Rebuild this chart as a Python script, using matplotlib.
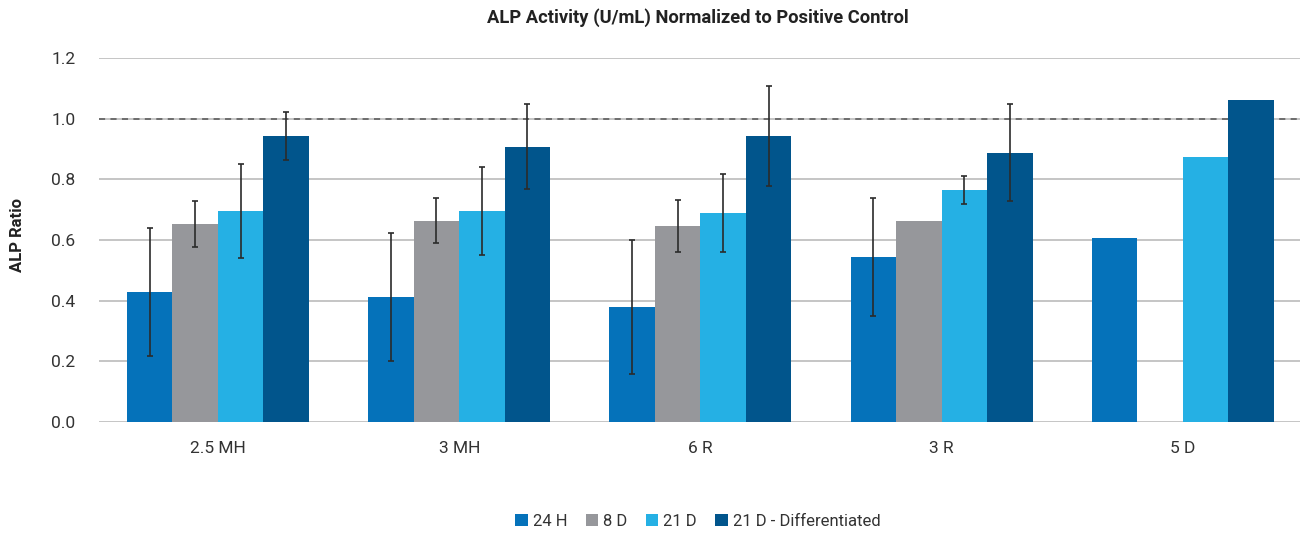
import numpy as np
import matplotlib
matplotlib.use("Agg")
import matplotlib.pyplot as plt
from matplotlib.patches import Patch

plt.rcParams['font.family'] = ['Roboto', 'DejaVu Sans']

categories = ["2.5 MH", "3 MH", "6 R", "3 R", "5 D"]
series_names = ["24 H", "8 D", "21 D", "21 D - Differentiated"]
colors = ["#0572BA", "#96979B", "#25B0E4", "#01558C"]

v_24h = [0.429, 0.412, 0.379, 0.544, 0.607]
v_8d = [0.653, 0.663, 0.646, 0.663, np.nan]
v_21d = [0.696, 0.696, 0.689, 0.765, 0.874]
v_21dd = [0.943, 0.907, 0.943, 0.887, 1.062]

e_24h = [0.212, 0.212, 0.222, 0.194, np.nan]
e_8d = [0.077, 0.074, 0.087, np.nan, np.nan]
e_21d = [0.156, 0.144, 0.128, 0.047, np.nan]
e_21dd = [0.078, 0.140, 0.165, 0.160, np.nan]

values = [v_24h, v_8d, v_21d, v_21dd]
errors = [e_24h, e_8d, e_21d, e_21dd]

yticks = [0.0, 0.2, 0.4, 0.6, 0.8, 1.0, 1.2]
ref_line = 1.0

W, H = 1301, 537
fig = plt.figure(figsize=(W / 100, H / 100), dpi=100)
ax = fig.add_axes([99 / W, (H - 422) / H, (1300 - 99) / W, (422 - 58) / H])

x = np.arange(len(categories))
bw = 0.1886
offsets = [-1.5, -0.5, 0.5, 1.5]
for vals, errs, col, off in zip(values, errors, colors, offsets):
    vals = np.array(vals, dtype=float)
    ax.bar(x + off * bw, vals, width=bw, color=col, zorder=3, linewidth=0)
    errs = np.array(errs, dtype=float)
    m = ~np.isnan(errs) & ~np.isnan(vals)
    ax.errorbar((x + off * bw)[m], vals[m], yerr=errs[m], fmt='none',
                ecolor='#2b2b2b', elinewidth=1.2, capsize=2.5, capthick=1.2,
                zorder=4)

ax.axhline(ref_line, color='#555555', linestyle=(0, (4, 3.5)), linewidth=1.1, zorder=2)

ax.set_ylim(0, 1.2)
ax.set_xlim(-0.493, 4.485)
ax.set_yticks(yticks)
ax.set_yticklabels([f"{t:.1f}" for t in yticks], fontsize=12.5, color='#333333')
ax.set_xticks(x)
ax.set_xticklabels(categories, fontsize=12.5, color='#333333')
ax.tick_params(axis='both', length=0)
ax.tick_params(axis='x', pad=14)
ax.tick_params(axis='y', pad=17)
ax.yaxis.grid(True, color='#c0c0c0', linewidth=1.3, zorder=0)
ax.set_axisbelow(True)
for s in ax.spines.values():
    s.set_visible(False)

fig.text(18 / W, 1 - 235 / H, "ALP Ratio", rotation=90, fontsize=12,
         fontweight='bold', ha='center', va='center', color='#222222')
fig.text(698 / W, 1 - 18 / H, "ALP Activity (U/mL) Normalized to Positive Control",
         fontsize=13.2, fontweight='bold', ha='center', va='center', color='#222222')

handles = [Patch(facecolor=c, edgecolor='none') for c in colors]
fig.legend(handles, series_names, loc='center', bbox_to_anchor=(698 / W, 1 - 521 / H),
           ncol=4, frameon=False, fontsize=12, handlelength=0.75, handleheight=0.75,
           handletextpad=0.3, columnspacing=1.1, labelcolor='#333333')

fig.savefig("out.png", dpi=100)
